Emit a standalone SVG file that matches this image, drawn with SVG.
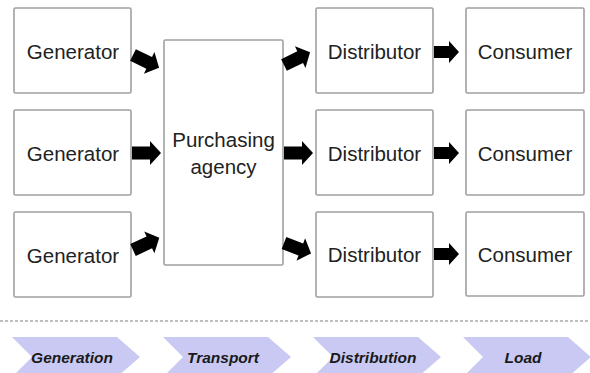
<svg xmlns="http://www.w3.org/2000/svg" width="590" height="373" viewBox="0 0 590 373">
<defs>
<style>
.box{fill:#fff;stroke:#a0a0a0;stroke-width:1.6}
.lbl{font-family:"Liberation Sans",Arial,sans-serif;font-size:20.5px;fill:#222;text-anchor:middle}
.arr{fill:#000}
.chev{fill:#c9c9f4}
.stage{font-family:"Liberation Sans",Arial,sans-serif;font-size:15.5px;font-weight:bold;font-style:italic;fill:#1a1a1a;text-anchor:middle}
</style>
<path id="ba" d="M0,-6.5 H18 V-12 L29,0 L18,12 V6.5 H0 Z"/>
<path id="bs" d="M0,-6 H15 V-11 L25,0 L15,11 V6 H0 Z"/>
</defs>
<rect width="590" height="373" fill="#fff"/>
<g id="gen1"><rect class="box" x="14" y="8" width="117" height="85" rx="1.5"/><text class="lbl" x="73" y="59">Generator</text></g>
<g id="gen2"><rect class="box" x="14" y="110" width="117" height="85" rx="1.5"/><text class="lbl" x="73" y="161">Generator</text></g>
<g id="gen3"><rect class="box" x="14" y="212" width="117" height="85" rx="1.5"/><text class="lbl" x="73" y="263">Generator</text></g>
<g id="agency"><rect class="box" x="164" y="40" width="119" height="225" rx="1.5"/><text class="lbl" x="223.5" y="147">Purchasing</text><text class="lbl" x="223.5" y="174">agency</text></g>
<g id="dist1"><rect class="box" x="316" y="8" width="117" height="85" rx="1.5"/><text class="lbl" x="374.5" y="59">Distributor</text></g>
<g id="dist2"><rect class="box" x="316" y="110" width="117" height="85" rx="1.5"/><text class="lbl" x="374.5" y="161">Distributor</text></g>
<g id="dist3"><rect class="box" x="316" y="212" width="117" height="85" rx="1.5"/><text class="lbl" x="374.5" y="262">Distributor</text></g>
<g id="cons1"><rect class="box" x="466" y="8" width="118" height="85" rx="1.5"/><text class="lbl" x="525" y="59">Consumer</text></g>
<g id="cons2"><rect class="box" x="466" y="110" width="118" height="85" rx="1.5"/><text class="lbl" x="525" y="161">Consumer</text></g>
<g id="cons3"><rect class="box" x="466" y="212" width="118" height="84" rx="1.5"/><text class="lbl" x="525" y="262">Consumer</text></g>
<g id="connectors" class="arr">
<use href="#ba" transform="translate(133,55) rotate(26)"/>
<use href="#ba" transform="translate(132,153)"/>
<use href="#ba" transform="translate(133,250) rotate(-25)"/>
<use href="#ba" transform="translate(284,65) rotate(-26)"/>
<use href="#ba" transform="translate(284,153)"/>
<use href="#ba" transform="translate(284,243) rotate(21)"/>
<use href="#bs" transform="translate(434,52)"/>
<use href="#bs" transform="translate(434,153)"/>
<use href="#bs" transform="translate(434,254)"/>
</g>
<line x1="0" y1="321" x2="590" y2="321" stroke="#aaa" stroke-width="1.5" stroke-dasharray="3 2"/>
<g id="stages">
<g id="s1"><polygon class="chev" points="12,337 117,337 140,357 117,377 12,377 32,357"/><text class="stage" x="72" y="363">Generation</text></g>
<g id="s2"><polygon class="chev" points="163,337 268,337 291,357 268,377 163,377 183,357"/><text class="stage" x="223" y="363">Transport</text></g>
<g id="s3"><polygon class="chev" points="313,337 418,337 441,357 418,377 313,377 333,357"/><text class="stage" x="373" y="363">Distribution</text></g>
<g id="s4"><polygon class="chev" points="463,337 568,337 591,357 568,377 463,377 483,357"/><text class="stage" x="523" y="363">Load</text></g>
</g>
</svg>
